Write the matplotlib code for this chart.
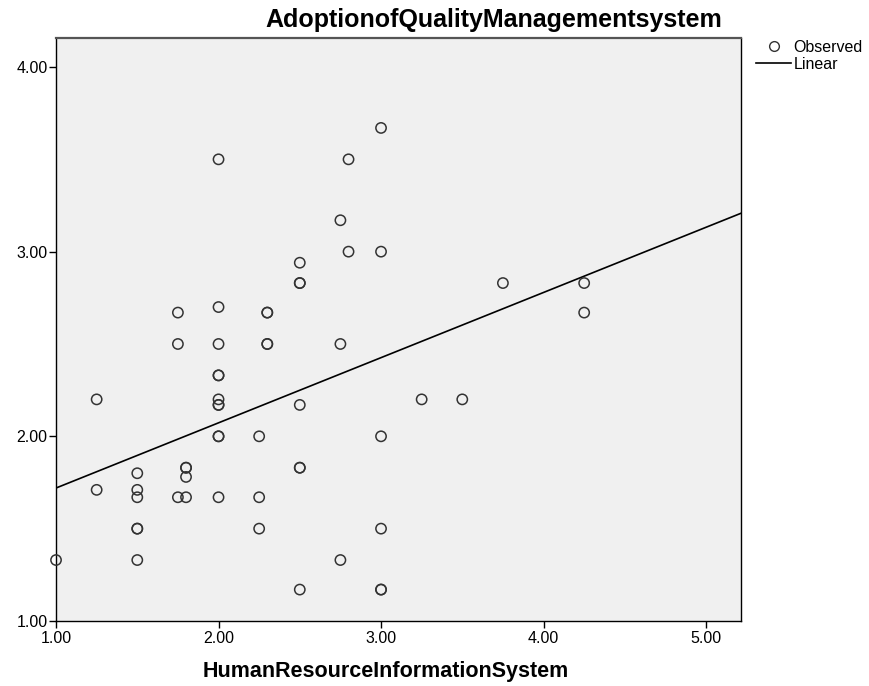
import matplotlib
matplotlib.use("Agg")
import matplotlib.pyplot as plt
from matplotlib.lines import Line2D

plt.rcParams['font.family'] = ['Liberation Sans', 'DejaVu Sans']

# observed values (x = HRIS score, y = QMS adoption score)
hris = [1.00, 1.25, 1.25, 1.50, 1.50, 1.50, 1.50, 1.50, 1.50,
        1.75, 1.75, 1.75, 1.80, 1.80, 1.80, 1.80,
        2.00, 2.00, 2.00, 2.00, 2.00, 2.00, 2.00, 2.00, 2.00, 2.00, 2.00,
        2.25, 2.25, 2.25, 2.30, 2.30, 2.30, 2.30,
        2.50, 2.50, 2.50, 2.50, 2.50, 2.50, 2.50,
        2.75, 2.75, 2.75, 2.80, 2.80,
        3.00, 3.00, 3.00, 3.00, 3.00, 3.00,
        3.25, 3.50, 3.75, 4.25, 4.25]
qms = [1.33, 2.20, 1.71, 1.80, 1.71, 1.67, 1.50, 1.50, 1.33,
       2.67, 2.50, 1.67, 1.83, 1.83, 1.78, 1.67,
       3.50, 2.70, 2.50, 2.33, 2.33, 2.20, 2.17, 2.17, 2.00, 2.00, 1.67,
       2.00, 1.67, 1.50, 2.67, 2.67, 2.50, 2.50,
       2.94, 2.83, 2.83, 2.17, 1.83, 1.83, 1.17,
       3.17, 2.50, 1.33, 3.50, 3.00,
       3.67, 3.00, 2.00, 1.50, 1.17, 1.17,
       2.20, 2.20, 2.83, 2.83, 2.67]

# linear fit as shown in the chart
fit_intercept = 1.367
fit_slope = 0.353

x_ticks = [1.0, 2.0, 3.0, 4.0, 5.0]
y_ticks = [1.0, 2.0, 3.0, 4.0]

fig = plt.figure(figsize=(8.7, 6.86), dpi=100)
ax = fig.add_axes([0.0644, 0.0948, 0.7873, 0.8498])
ax.set_facecolor('#f0f0f0')

ax.scatter(hris, qms, s=55, facecolors='none', edgecolors='#333333',
           linewidths=1.1, zorder=3, clip_on=False)

ax.set_xlim(1.0, 5.215)
ax.set_ylim(1.0, 4.157)
xs = [1.0, 5.215]
ax.plot(xs, [fit_intercept + fit_slope * v for v in xs], color='black',
        lw=1.2, zorder=2)

ax.set_xticks(x_ticks)
ax.set_yticks(y_ticks)
ax.set_xticklabels([f"{v:.2f}" for v in x_ticks])
ax.set_yticklabels([f"{v:.2f}" for v in y_ticks])
ax.tick_params(direction='out', length=5, width=1, labelsize=11.5,
               colors='black', pad=1)
ax.tick_params(axis='x', pad=2)
for sp in ax.spines.values():
    sp.set_linewidth(1.0)
ax.spines['top'].set_color('#555555')
ax.spines['top'].set_linewidth(1.6)

fig.text(265 / 870, 1 - 20 / 686, 'AdoptionofQualityManagementsystem',
         ha='left', va='center', fontsize=18, fontweight='bold')
fig.text(203 / 870, 1 - 672 / 686, 'HumanResourceInformationSystem',
         ha='left', va='center', fontsize=15.5, fontweight='bold')

handles = [Line2D([], [], marker='o', ls='none', mfc='none', mec='#333333',
                  ms=7, mew=1.0),
           Line2D([], [], color='black', lw=1.2)]
fig.legend(handles, ['Observed', 'Linear'], loc='upper left',
           bbox_to_anchor=(756 / 870, 1 - 40 / 686), frameon=False,
           fontsize=11.5, handlelength=2.2, handletextpad=0.15,
           labelspacing=0.1, borderaxespad=0, borderpad=0)

fig.savefig('out.png', dpi=100)
